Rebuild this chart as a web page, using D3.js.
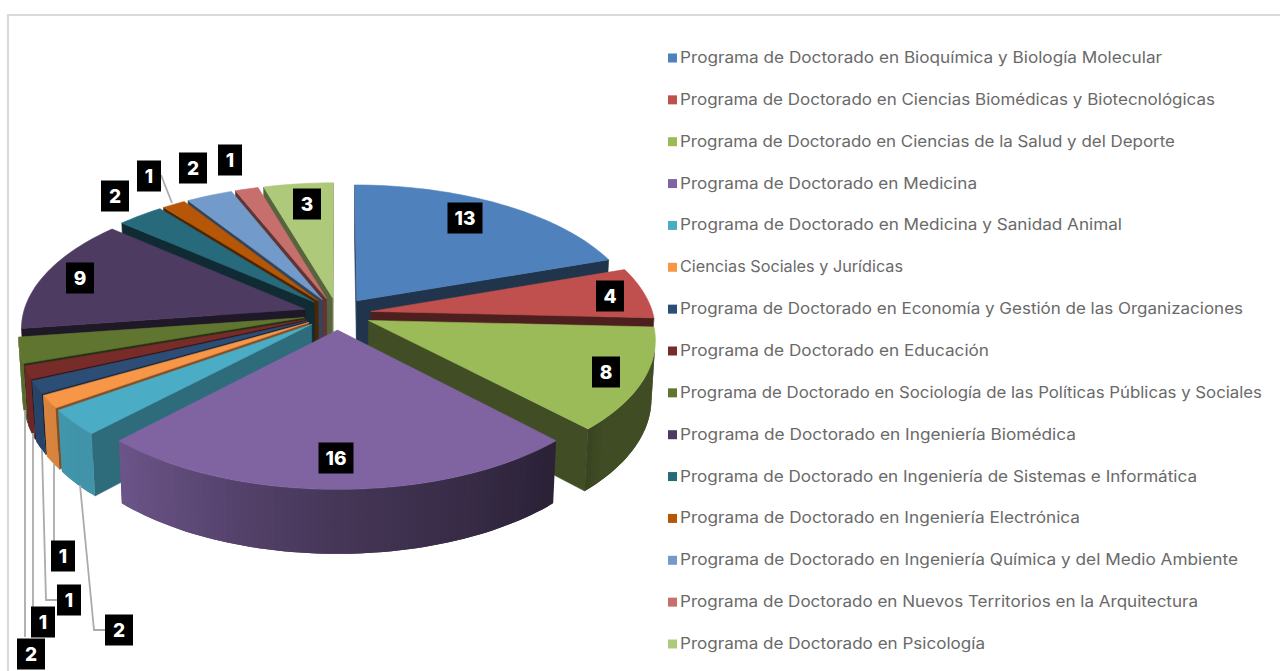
<!DOCTYPE html>
<html><head><meta charset="utf-8">
<script src="https://cdn.jsdelivr.net/npm/d3@7/dist/d3.min.js"></script>
<style>html,body{margin:0;padding:0;background:#fff;overflow:hidden}svg{display:block}</style>
</head><body><svg id="c" width="1280" height="671"></svg>
<script>
const categories = [
 "Programa de Doctorado en Bioquímica y Biología Molecular",
 "Programa de Doctorado en Ciencias Biomédicas y Biotecnológicas",
 "Programa de Doctorado en Ciencias de la Salud y del Deporte",
 "Programa de Doctorado en Medicina",
 "Programa de Doctorado en Medicina y Sanidad Animal",
 "Ciencias Sociales y Jurídicas",
 "Programa de Doctorado en Economía y Gestión de las Organizaciones",
 "Programa de Doctorado en Educación",
 "Programa de Doctorado en Sociología de las Políticas Públicas y Sociales",
 "Programa de Doctorado en Ingeniería Biomédica",
 "Programa de Doctorado en Ingeniería de Sistemas e Informática",
 "Programa de Doctorado en Ingeniería Electrónica",
 "Programa de Doctorado en Ingeniería Química y del Medio Ambiente",
 "Programa de Doctorado en Nuevos Territorios en la Arquitectura",
 "Programa de Doctorado en Psicología"];
const values = [13,4,8,16,2,1,1,1,2,9,2,1,2,1,3];
const colors = ["#4f81bd","#c0504d","#9bbb59","#8064a2","#4bacc6","#f79646","#2c4d75","#772c2a","#5f7530","#4d3b62","#276a7c","#b65708","#729aca","#c66f6d","#afc97a"];
// label box centres (layout only)
const labelX = [465,610,606,336,119,63,69,43,31,80,115,149,193,230,307];
const labelY = [218,296,372,458,630,556,600,622,654,278,196,176,168,160,204];
// legend text widths (layout only)
const legendWidth = [482,535,495,297,442,223,563,309,582,396,517,400,558,518,305];
// leader lines, indexed by slice (layout only)
const leaders = [
 {i:4,pts:[[80,485],[94,630],[105,630]]},
 {i:5,pts:[[54,463],[54,541]]},
 {i:6,pts:[[42,450],[46,600],[57,600]]},
 {i:7,pts:[[33,433],[33,607]]},
 {i:8,pts:[[25,410],[25,637]]},
 {i:11,pts:[[161,175],[172,203]]}];

const svg = d3.select("#c");
// frame
svg.append("path").attr("d","M8,671V15H1280").attr("fill","none").attr("stroke","#d9d9d9").attr("stroke-width",2.2);

// projection
const cx=337.5, cy=313.7, S=282, A=134, B=58, k=0.13, m=0.012, explode=0.12;
function project(wx,wy,z){const d=1+k*wy+m*z;return [cx+S*wx/d, cy+(-A*wy+B*z)/d];}
const pie=d3.pie().sort(null).startAngle(0).endAngle(2*Math.PI)(values);
const line=d3.line();
const arcShade=d3.scaleLinear().domain([90,130,137,180,223,270]).range([.41,.41,.34,.55,.85,.95]).clamp(true);
const radShade=d3.scaleLinear().domain([130,160,226,254]).range([.65,.4,.41,.5]).clamp(true);
const dk=(c,f)=>{const r=d3.rgb(c);return d3.rgb(r.r*f,r.g*f,r.b*f).formatHex();};
const area=p=>d3.sum(p,(q,i)=>{const n=p[(i+1)%p.length];return q[0]*n[1]-n[0]*q[1];});
const deg=a=>(a*180/Math.PI+360)%360;

const slices=pie.map((s,i)=>{
  const mid=(s.startAngle+s.endAngle)/2;
  return {i,s,mid,ox:explode*Math.sin(mid),oy:explode*Math.cos(mid),color:colors[i]};
}).sort((a,b)=>Math.cos(b.mid)-Math.cos(a.mid));

const g=svg.append("g");
slices.forEach(d=>{
  const P=(a,z,r=1)=>project(d.ox+r*Math.sin(a),d.oy+r*Math.cos(a),z);
  const a0=d.s.startAngle,a1=d.s.endAngle,n=Math.max(2,Math.ceil((a1-a0)/(Math.PI/120)));
  const angles=d3.range(n+1).map(j=>a0+(a1-a0)*j/n);
  const draw=(pts,fill,sw=.6)=>g.append("path").attr("d",line(pts)+"Z").attr("fill",fill).attr("stroke",sw?fill:"none").attr("stroke-width",sw).attr("stroke-linejoin","round");
  const Ap=P(0,0,0),Ab=P(0,1,0);
  const st=[Ap,P(a0,0),P(a0,1),Ab], en=[P(a1,0),Ap,Ab,P(a1,1)];
  const walls=[];
  if(area(st)<0) walls.push({p:st,f:dk(d.color,radShade((deg(a0)-90+360)%360))});
  if(area(en)<0) walls.push({p:en,f:dk(d.color,radShade((deg(a1)+90)%360))});
  walls.forEach(w=>draw(w.p,w.f));
  // outer wall: each strip overlaps the next one so no seams show
  for(let j=n-1;j>=0;j--){
    const q=[P(angles[j],0),P(angles[j+1],0),P(angles[j+1],1),P(angles[j],1)];
    if(area(q)<0){
      const e=Math.min(n,j+2);
      const q2=[];
      for(let t=j;t<=e;t++) q2.push(P(angles[t],0));
      for(let t=e;t>=j;t--) q2.push(P(angles[t],1));
      draw(q2,dk(d.color,arcShade(deg((angles[j]+angles[j+1])/2))),0);
    }
  }
  draw([Ap,...angles.map(a=>P(a,0))],d.color);
});

// leader lines
svg.append("g").selectAll("path").data(leaders).join("path")
 .attr("d",d=>line(d.pts)).attr("fill","none").attr("stroke","#ababab").attr("stroke-width",1.8);

// labels
const FONT="Inter, 'Open Sans', sans-serif";
const lab=svg.append("g").selectAll("g").data(values).join("g")
 .attr("transform",(d,i)=>`translate(${labelX[i]},${labelY[i]})`);
lab.append("rect").attr("x",d=>d>9?-17.5:(d==1?-12:-14)).attr("y",-15.5).attr("height",31)
 .attr("width",d=>d>9?35:(d==1?24:28)).attr("fill","#000");
lab.append("text").text(d=>d).attr("text-anchor","middle").attr("y",7)
 .attr("font-family",FONT).attr("font-weight",800).attr("font-size",19).attr("fill","#fff");

// legend
const legendY=d3.scalePoint().domain(d3.range(categories.length)).range([58,644]);
const leg=svg.append("g").selectAll("g").data(categories).join("g")
 .attr("transform",(d,i)=>`translate(668,${legendY(i)})`);
leg.append("rect").attr("x",0).attr("y",-4.5).attr("width",9).attr("height",9).attr("fill",(d,i)=>colors[i]);
leg.append("text").text(d=>d).attr("x",12).attr("y",5)
 .attr("textLength",(d,i)=>legendWidth[i]).attr("lengthAdjust","spacingAndGlyphs")
 .attr("font-family",FONT).attr("font-size",15.6).attr("fill","#6a6a6a");
</script></body></html>
